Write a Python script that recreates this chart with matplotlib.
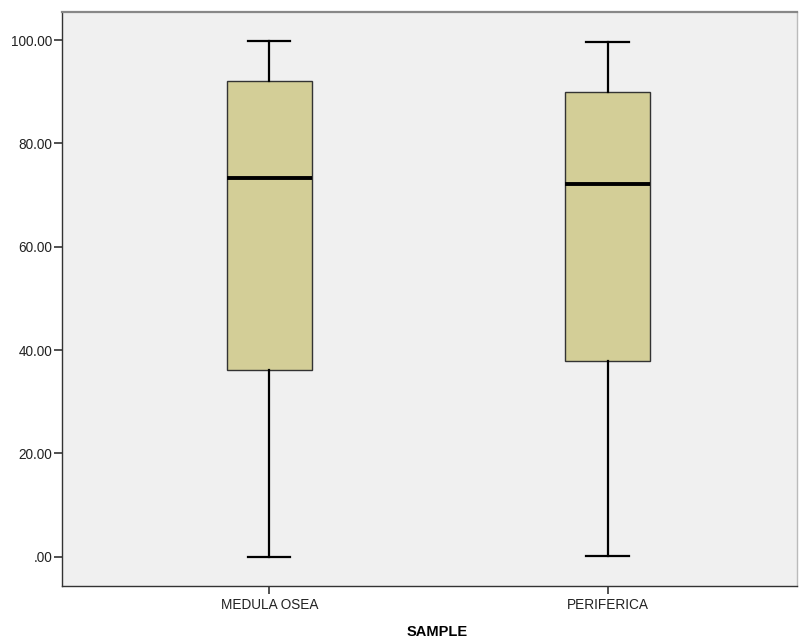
import matplotlib
matplotlib.use("Agg")
import matplotlib.pyplot as plt
from matplotlib.ticker import FuncFormatter

plt.rcParams["font.family"] = ["Liberation Sans", "DejaVu Sans"]

groups = ["MEDULA OSEA", "PERIFERICA"]
whisker_low = [0.0, 0.1]
q1 = [36.1, 37.9]
median = [73.4, 72.1]
q3 = [92.1, 89.9]
whisker_high = [99.8, 99.7]

BOX_FILL = "#d3ce97"
PANEL_BG = "#f0f0f0"

stats = [
    {"label": g, "whislo": lo, "q1": a, "med": m, "q3": b, "whishi": hi, "fliers": []}
    for g, lo, a, m, b, hi in zip(groups, whisker_low, q1, median, q3, whisker_high)
]

fig = plt.figure(figsize=(8.02, 6.41), dpi=100)
ax = fig.add_axes([0.0773, 0.0863, 0.9165, 0.8954])
ax.set_facecolor(PANEL_BG)

ax.bxp(
    stats,
    positions=[1, 2],
    widths=0.25,
    patch_artist=True,
    boxprops=dict(facecolor=BOX_FILL, edgecolor="#333333", linewidth=1.0),
    medianprops=dict(color="black", linewidth=2.8, solid_capstyle="butt"),
    whiskerprops=dict(color="black", linewidth=1.6),
    capprops=dict(color="black", linewidth=1.6),
)

ax.set_xlim(0.387, 2.56)
ax.set_ylim(-5.6, 105.5)
ax.set_yticks([0, 20, 40, 60, 80, 100])
ax.yaxis.set_major_formatter(FuncFormatter(lambda v, _: ".00" if v == 0 else f"{v:.2f}"))
ax.set_xticks([1, 2])
ax.set_xticklabels(groups)

ax.tick_params(axis="both", direction="out", length=6, width=1.2, color="#333333",
               labelsize=9.8, labelcolor="#222222")
ax.tick_params(axis="y", pad=1)
ax.tick_params(axis="x", pad=3)

for side in ["left", "bottom", "right"]:
    ax.spines[side].set_color("#333333")
    ax.spines[side].set_linewidth(1.0)
ax.spines["top"].set_color("#888888")
ax.spines["top"].set_linewidth(1.6)
ax.spines["right"].set_color("#bbbbbb")

ax.set_xlabel("SAMPLE", fontsize=10.5, fontweight="bold", va="top")
ax.xaxis.set_label_coords(0.51, -0.068)

fig.savefig("out.png", dpi=100)
